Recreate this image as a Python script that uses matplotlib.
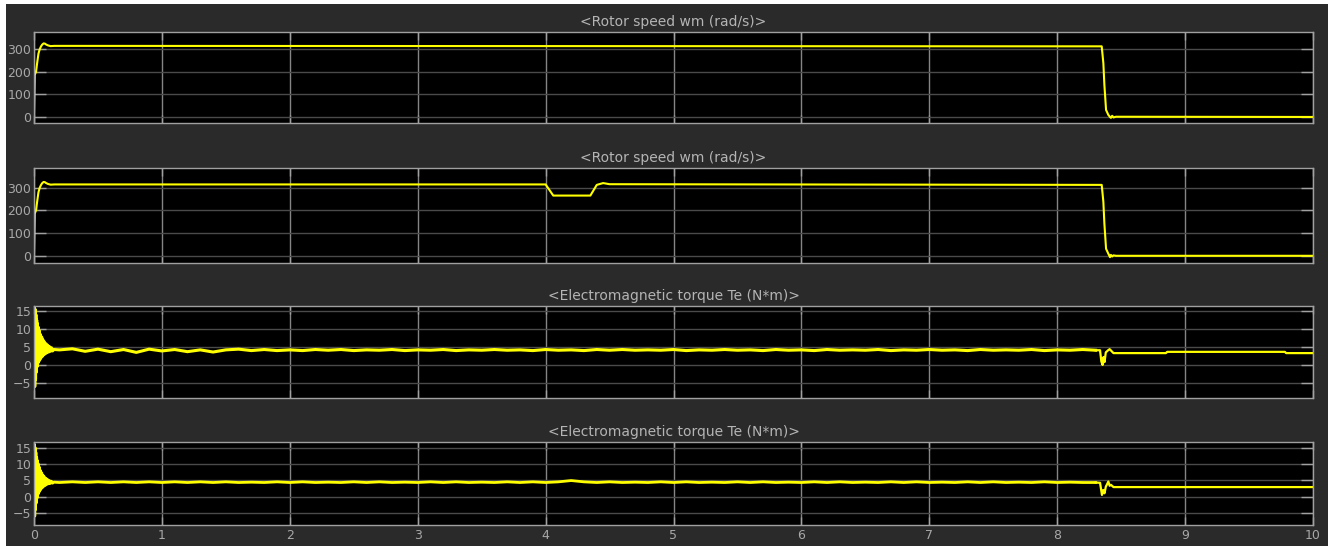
import numpy as np
import matplotlib
matplotlib.use("Agg")
import matplotlib.pyplot as plt
from matplotlib.patches import Rectangle

# rotor speed, motor 1 (rad/s)
t_speed1 = [0, 0.006, 0.01, 0.016, 0.025, 0.035, 0.045, 0.055, 0.065, 0.075, 0.085,
            0.095, 0.11, 0.13, 0.16, 8.348, 8.361, 8.369, 8.382, 8.40, 8.413, 8.42,
            8.43, 8.44, 8.46, 10]
speed1 = [0, 185, 192, 200, 240, 280, 300, 312, 320, 325, 324,
          320, 316, 313, 314, 312, 237, 141, 31, 9, 0, -4,
          5, -2, 1, 0]

# rotor speed, motor 2 (load step around t = 4 s)
t_speed2 = [0, 0.006, 0.01, 0.016, 0.025, 0.035, 0.045, 0.055, 0.065, 0.075, 0.085,
            0.095, 0.11, 0.13, 0.16, 4.0, 4.06, 4.35, 4.40, 4.45, 4.5,
            8.348, 8.361, 8.369, 8.382, 8.40, 8.413, 8.42, 8.43, 8.44, 8.46, 10]
speed2 = [0, 185, 192, 200, 240, 280, 300, 312, 320, 325, 324,
          320, 316, 313, 314, 314, 265, 265, 312, 320, 315,
          312, 237, 141, 31, 9, -6, 4, -3, 2, 0, 0]

# start-up transient of the torque (shared time base)
t_start = [0, 0.003, 0.006, 0.009, 0.012, 0.015, 0.018, 0.021, 0.024, 0.027, 0.03,
           0.034, 0.038, 0.042, 0.046, 0.05, 0.055, 0.06, 0.065, 0.07, 0.076,
           0.082, 0.088, 0.094, 0.1, 0.107, 0.114, 0.121, 0.128, 0.136, 0.145, 0.155]
te1_start = [0, 16, -6, 15.5, -4, 14, -2, 12.5, -0.5, 11.5, 0.5,
             10.5, 1, 9.5, 1.5, 8.5, 2, 7.8, 2.4, 7, 2.8,
             6.4, 3.1, 5.9, 3.4, 5.5, 3.6, 5.1, 3.8, 4.8, 3.9, 4.3]
te2_start = [0, 16, -6, 15, -4, 13.5, -2, 12, -0.5, 11, 0.5,
             10, 1.2, 9, 1.8, 8, 2.3, 7.3, 2.7, 6.6, 3.1,
             6, 3.4, 5.6, 3.7, 5.2, 3.9, 4.9, 4.0, 4.7, 4.1, 4.4]

# steady running ripple, sampled every 0.1 s from 0.2 s to 8.3 s
t_ripple = np.round(np.arange(0.2, 8.31, 0.1), 2)
te1_ripple = [4.2, 4.5, 3.8, 4.4, 3.7, 4.3, 3.5, 4.4, 3.9,
              4.3, 3.7, 4.2, 3.6, 4.2, 4.4, 4.0, 4.3, 4.0, 4.2,
              4.0, 4.3, 4.1, 4.3, 4.0, 4.2, 4.1, 4.3, 4.0, 4.2,
              4.1, 4.3, 4.0, 4.2, 4.1, 4.3, 4.1, 4.2, 4.0, 4.3,
              4.1, 4.2, 4.0, 4.3, 4.1, 4.3, 4.1, 4.2, 4.1, 4.3,
              4.0, 4.2, 4.1, 4.3, 4.1, 4.2, 4.0, 4.3, 4.1, 4.2,
              4.0, 4.3, 4.1, 4.2, 4.1, 4.3, 4.0, 4.2, 4.1, 4.3,
              4.1, 4.2, 4.0, 4.3, 4.1, 4.2, 4.1, 4.3, 4.0, 4.2,
              4.1, 4.3, 4.1]
te2_ripple = [4.3, 4.5, 4.3, 4.5, 4.3, 4.5, 4.3, 4.5, 4.3,
              4.5, 4.3, 4.5, 4.3, 4.5, 4.3, 4.4, 4.3, 4.5, 4.3,
              4.5, 4.3, 4.4, 4.3, 4.5, 4.3, 4.5, 4.3, 4.4, 4.3,
              4.5, 4.3, 4.5, 4.3, 4.4, 4.3, 4.5, 4.3, 4.5, 4.3,
              4.5, 4.9, 4.5, 4.3, 4.5, 4.3, 4.4, 4.3, 4.5, 4.3,
              4.5, 4.3, 4.4, 4.3, 4.5, 4.3, 4.5, 4.3, 4.4, 4.3,
              4.5, 4.3, 4.5, 4.3, 4.4, 4.3, 4.5, 4.3, 4.5, 4.3,
              4.4, 4.3, 4.5, 4.3, 4.5, 4.3, 4.4, 4.3, 4.5, 4.3,
              4.4, 4.3, 4.3]

# stop event and after
t_end1 = [8.3, 8.335, 8.345, 8.355, 8.362, 8.37, 8.38, 8.395, 8.41, 8.44, 8.85, 8.86, 9.78, 9.79, 10]
te1_end = [4.1, 4.1, 1.0, 0.0, 2.2, 0.8, 3.5, 4.0, 4.4, 3.3, 3.3, 3.65, 3.65, 3.3, 3.3]
t_end2 = [8.3, 8.335, 8.35, 8.36, 8.37, 8.38, 8.40, 8.41, 8.42, 8.44, 10]
te2_end = [4.3, 4.2, 0.5, 2.0, 1.0, 3.0, 4.6, 3.3, 3.6, 2.9, 2.9]

te1_t = np.concatenate([t_start, t_ripple])
te1 = np.concatenate([te1_start, te1_ripple])
te2_t = np.concatenate([t_start, t_ripple])
te2 = np.concatenate([te2_start, te2_ripple])

speed_ticks = [0, 100, 200, 300]
torque_ticks = [-5, 0, 5, 10, 15]
x_ticks = list(range(0, 11))

speed_title = "<Rotor speed wm (rad/s)>"
torque_title = "<Electromagnetic torque Te (N*m)>"

BG = "#2a2a2a"
LINE = "#ffff00"
TXT = "#a8a8a8"

plt.rcParams["font.family"] = "DejaVu Sans"

fig = plt.figure(figsize=(13.36, 5.46), dpi=100, facecolor="white")
fig.patches.append(Rectangle((6 / 1336, 0), 1322 / 1336, 542 / 546,
                             transform=fig.transFigure, facecolor=BG,
                             edgecolor="none", zorder=-10))

W, H = 1336, 546
left, right = 34, 1313
panels = [
    # (top px, bottom px, segments [(x, y, lw)], ylim, yticks, title)
    (32.3, 123.3, [(t_speed1, speed1, 1.5)], (-28, 374), speed_ticks, speed_title),
    (168.3, 263.3, [(t_speed2, speed2, 1.5)], (-33, 385), speed_ticks, speed_title),
    (306.0, 397.7, [(te1_t, te1, 2.2), (t_end1, te1_end, 1.6)], (-9.1, 16.4),
     torque_ticks, torque_title),
    (442.3, 525.0, [(te2_t, te2, 2.0), (t_end2, te2_end, 1.6)], (-8.7, 16.6),
     torque_ticks, torque_title),
]

for i, (top, bot, segs, ylim, yt, title) in enumerate(panels):
    ax = fig.add_axes([left / W, (H - bot) / H, (right - left) / W, (bot - top) / H])
    ax.set_facecolor("black")
    for x, y, lw in segs:
        ax.plot(x, y, color=LINE, lw=lw)
    ax.set_xlim(0, 10)
    ax.set_ylim(*ylim)
    ax.set_yticks(yt)
    ax.set_xticks(x_ticks)
    ax.yaxis.grid(True, color="#4a4a4a", lw=1)
    ax.xaxis.grid(True, color="#858585", lw=1)
    ax.set_axisbelow(True)
    ax.tick_params(axis="y", direction="in", length=8.5, width=1, color="#a0a0a0",
                   left=True, right=True, labelcolor=TXT, labelsize=9, pad=2)
    ax.tick_params(axis="x", direction="in", length=6, width=1, color="#a0a0a0",
                   bottom=True, top=True, labelcolor=TXT, labelsize=9, pad=3)
    if i < 3:
        ax.tick_params(axis="x", labelbottom=False)
    for s in ax.spines.values():
        s.set_color("#a0a0a0")
        s.set_linewidth(1)
    ax.set_title(title, color="#b4b4b4", fontsize=10, pad=4.5)

fig.savefig("out.png", dpi=100, facecolor=fig.get_facecolor())
